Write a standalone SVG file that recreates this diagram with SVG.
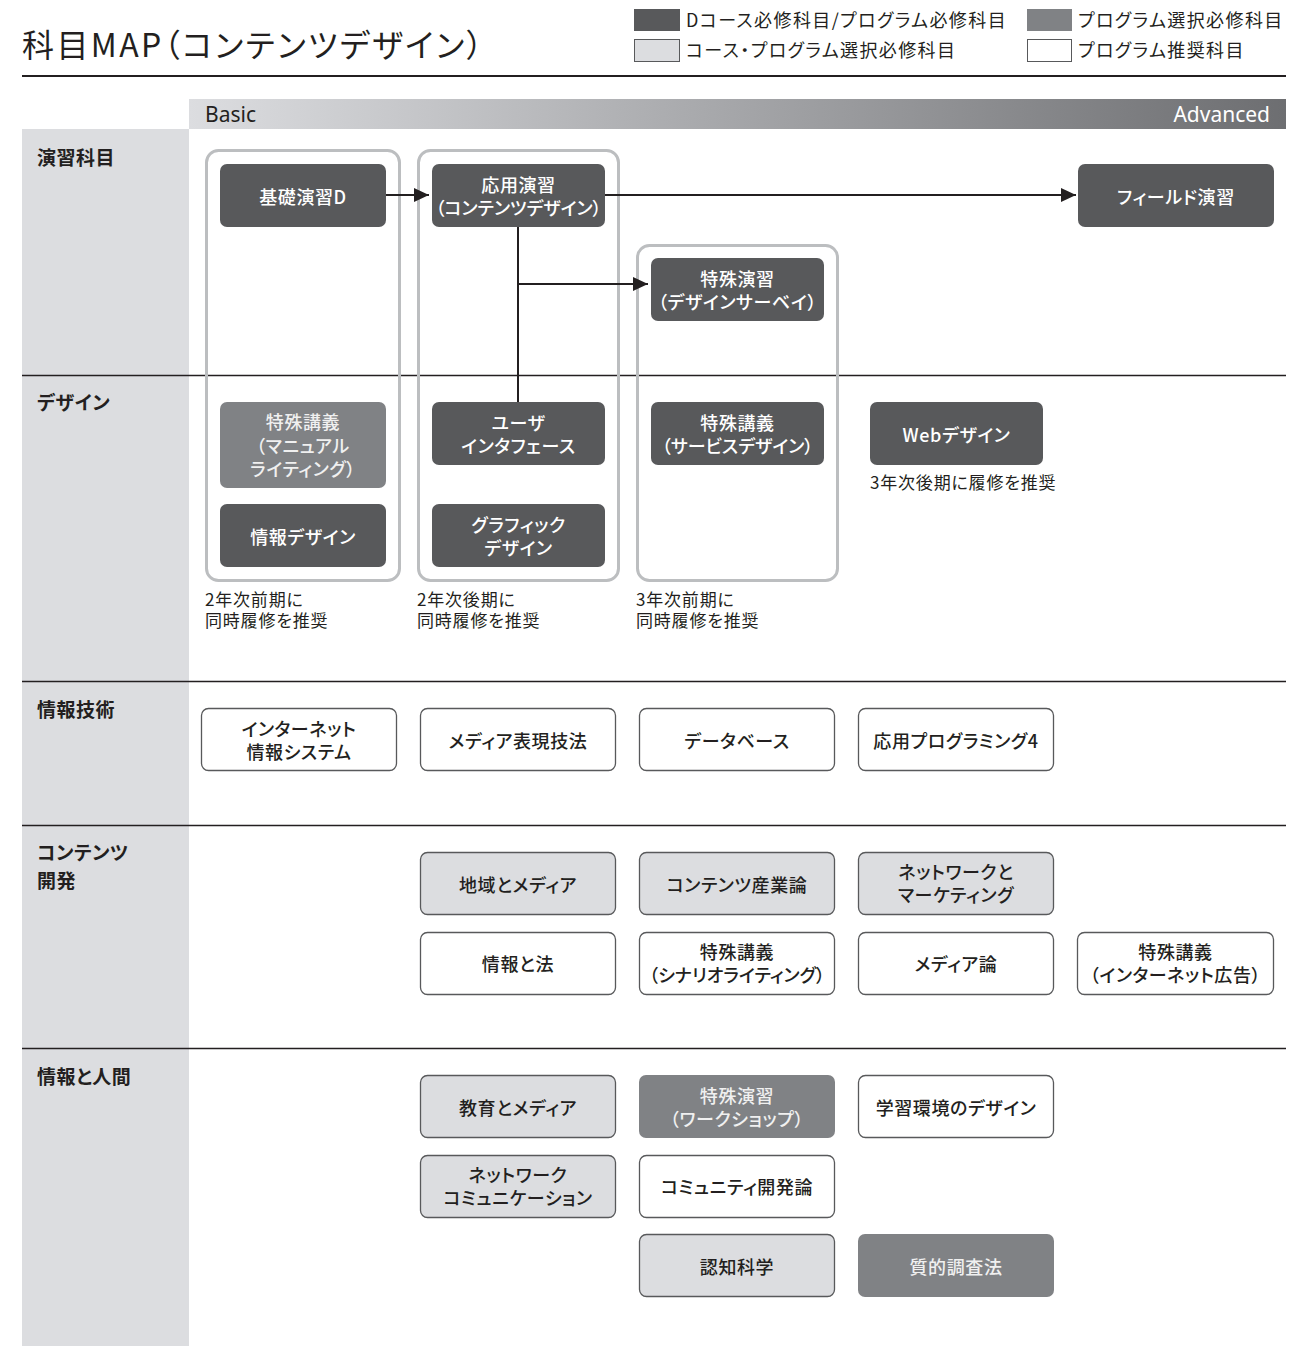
<svg xmlns="http://www.w3.org/2000/svg" width="1306" height="1346" viewBox="0 0 1306 1346">
<style>
text{font-family:"Noto Sans CJK JP","Noto Sans",sans-serif;font-feature-settings:"palt";}
.nt{font-size:18px;font-weight:500;text-anchor:middle;dominant-baseline:central;letter-spacing:0.6px;}
.tight{letter-spacing:0px;}
.tw{fill:#ffffff;}
.tm{fill:#f0f0f0;}
.tk{fill:#231f20;}
.dark{fill:#58595b;}
.mid{fill:#808285;}
.light{fill:#dcdde0;stroke:#58595b;stroke-width:1.3;}
.white{fill:#ffffff;stroke:#58595b;stroke-width:1.3;}
.grp{fill:none;stroke:#bcbec0;stroke-width:3;}
.rowlbl{font-size:19px;font-weight:700;fill:#231f20;letter-spacing:0.5px;}
.note{font-size:17px;fill:#231f20;letter-spacing:0.8px;}
.leg{font-size:18px;fill:#231f20;letter-spacing:1.4px;}
.sep{stroke:#231f20;stroke-width:1.3;}
.conn{stroke:#231f20;stroke-width:2;fill:none;}
</style>
<defs>
<linearGradient id="lvl" x1="0" y1="0" x2="1" y2="0">
<stop offset="0" stop-color="#dcdde0"/>
<stop offset="1" stop-color="#6d6e71"/>
</linearGradient>
<marker id="arr" markerUnits="userSpaceOnUse" markerWidth="16" markerHeight="16" viewBox="0 0 16 16" refX="15" refY="8" orient="auto">
<path d="M0,1 L15,8 L0,15 Z" fill="#231f20"/>
</marker>
</defs>
<rect width="1306" height="1346" fill="#ffffff"/>

<!-- Title -->
<text x="22" y="57" style="font-size:32px;fill:#231f20;letter-spacing:2.4px;">科目MAP（コンテンツデザイン）</text>
<line x1="22" y1="76" x2="1286" y2="76" stroke="#231f20" stroke-width="2.2"/>

<!-- Legend -->
<g id="legend">
<rect x="634" y="9" width="46" height="22" fill="#58595b"/>
<text class="leg" x="686" y="27">Dコース必修科目/プログラム必修科目</text>
<rect x="1027" y="9" width="45" height="22" fill="#808285"/>
<text class="leg" x="1078" y="27">プログラム選択必修科目</text>
<rect x="634.5" y="39.5" width="45" height="22" fill="#dcdde0" stroke="#58595b" stroke-width="1"/>
<text class="leg" x="686" y="57">コース・プログラム選択必修科目</text>
<rect x="1027.5" y="39.5" width="44" height="22" fill="#ffffff" stroke="#58595b" stroke-width="1"/>
<text class="leg" x="1078" y="57">プログラム推奨科目</text>
</g>

<!-- Level bar -->
<rect x="189" y="99" width="1097" height="30" fill="url(#lvl)"/>
<text x="205" y="122" style="font-family:'Noto Sans',sans-serif;font-size:21px;fill:#231f20;">Basic</text>
<text x="1270" y="122" text-anchor="end" style="font-family:'Noto Sans',sans-serif;font-size:21px;fill:#ffffff;">Advanced</text>

<!-- Sidebar -->
<rect x="22" y="129" width="167" height="1217" fill="#dcdde0"/>

<!-- Separators -->
<g id="separators">
<line class="sep" x1="22" y1="375.5" x2="1286" y2="375.5"/>
<line class="sep" x1="22" y1="681.5" x2="1286" y2="681.5"/>
<line class="sep" x1="22" y1="825.5" x2="1286" y2="825.5"/>
<line class="sep" x1="22" y1="1048.5" x2="1286" y2="1048.5"/>
</g>

<!-- Row labels -->
<g id="row-labels">
<text class="rowlbl" x="37" y="165">演習科目</text>
<text class="rowlbl" x="37" y="410">デザイン</text>
<text class="rowlbl" x="37" y="717">情報技術</text>
<text class="rowlbl" x="37" y="860">コンテンツ</text>
<text class="rowlbl" x="37" y="888">開発</text>
<text class="rowlbl" x="37" y="1084">情報と人間</text>
</g>

<!-- Groups -->
<g id="groups">
<rect class="grp" x="206.5" y="150.5" width="193" height="430" rx="12"/>
<rect class="grp" x="418.5" y="150.5" width="200" height="430" rx="12"/>
<rect class="grp" x="637.5" y="245.5" width="200" height="335" rx="12"/>
</g>

<!-- Connectors -->
<g id="connectors">
<line class="conn" x1="386" y1="195" x2="429" y2="195" marker-end="url(#arr)"/>
<line class="conn" x1="605" y1="195" x2="1076" y2="195" marker-end="url(#arr)"/>
<line class="conn" x1="518" y1="227" x2="518" y2="402"/>
<line class="conn" x1="518" y1="284" x2="648" y2="284" marker-end="url(#arr)"/>
</g>

<!-- Notes -->
<g id="notes">
<text class="note" x="205" y="606">2年次前期に</text>
<text class="note" x="205" y="627">同時履修を推奨</text>
<text class="note" x="417" y="606">2年次後期に</text>
<text class="note" x="417" y="627">同時履修を推奨</text>
<text class="note" x="636" y="606">3年次前期に</text>
<text class="note" x="636" y="627">同時履修を推奨</text>
<text class="note" x="870" y="489">3年次後期に履修を推奨</text>
</g>

<!-- Nodes: 演習科目 -->
<g id="n-kiso"><rect class="dark" x="220" y="164" width="166" height="63" rx="7"/><text class="nt tw" x="303" y="196">基礎演習D</text></g>
<g id="n-ouyou"><rect class="dark" x="432" y="164" width="173" height="63" rx="7"/><text class="nt tw" x="518.5" y="184">応用演習</text><text class="nt tw tight" x="518.5" y="207">（コンテンツデザイン）</text></g>
<g id="n-field"><rect class="dark" x="1078" y="164" width="196" height="63" rx="7"/><text class="nt tw" x="1176" y="196">フィールド演習</text></g>
<g id="n-survey"><rect class="dark" x="651" y="258" width="173" height="63" rx="7"/><text class="nt tw" x="737.5" y="278">特殊演習</text><text class="nt tw" x="737.5" y="301">（デザインサーベイ）</text></g>

<!-- Nodes: デザイン -->
<g id="n-manual"><rect class="mid" x="220" y="402" width="166" height="86" rx="7"/><text class="nt tm" x="303" y="421">特殊講義</text><text class="nt tm" x="303" y="445">（マニュアル</text><text class="nt tm" x="303" y="468">ライティング）</text></g>
<g id="n-infodesign"><rect class="dark" x="220" y="504" width="166" height="63" rx="7"/><text class="nt tw" x="303" y="536">情報デザイン</text></g>
<g id="n-ui"><rect class="dark" x="432" y="402" width="173" height="63" rx="7"/><text class="nt tw" x="518.5" y="422">ユーザ</text><text class="nt tw" x="518.5" y="445">インタフェース</text></g>
<g id="n-graphic"><rect class="dark" x="432" y="504" width="173" height="63" rx="7"/><text class="nt tw" x="518.5" y="524">グラフィック</text><text class="nt tw" x="518.5" y="547">デザイン</text></g>
<g id="n-service"><rect class="dark" x="651" y="402" width="173" height="63" rx="7"/><text class="nt tw" x="737.5" y="422">特殊講義</text><text class="nt tw tight" x="737.5" y="445">（サービスデザイン）</text></g>
<g id="n-web"><rect class="dark" x="870" y="402" width="173" height="63" rx="7"/><text class="nt tw" x="956.5" y="434">Webデザイン</text></g>

<!-- Nodes: 情報技術 -->
<g id="n-inet"><rect class="white" x="201.5" y="708.5" width="195" height="62" rx="7"/><text class="nt tk" x="299" y="728">インターネット</text><text class="nt tk" x="299" y="751">情報システム</text></g>
<g id="n-media-hyogen"><rect class="white" x="420.5" y="708.5" width="195" height="62" rx="7"/><text class="nt tk" x="518" y="740">メディア表現技法</text></g>
<g id="n-db"><rect class="white" x="639.5" y="708.5" width="195" height="62" rx="7"/><text class="nt tk" x="737" y="740">データベース</text></g>
<g id="n-prog4"><rect class="white" x="858.5" y="708.5" width="195" height="62" rx="7"/><text class="nt tk" x="956" y="740">応用プログラミング4</text></g>

<!-- Nodes: コンテンツ開発 -->
<g id="n-chiiki"><rect class="light" x="420.5" y="852.5" width="195" height="62" rx="7"/><text class="nt tk" x="518" y="884">地域とメディア</text></g>
<g id="n-sangyo"><rect class="light" x="639.5" y="852.5" width="195" height="62" rx="7"/><text class="nt tk" x="737" y="884">コンテンツ産業論</text></g>
<g id="n-marketing"><rect class="light" x="858.5" y="852.5" width="195" height="62" rx="7"/><text class="nt tk" x="956" y="871">ネットワークと</text><text class="nt tk" x="956" y="894">マーケティング</text></g>
<g id="n-law"><rect class="white" x="420.5" y="932.5" width="195" height="62" rx="7"/><text class="nt tk" x="518" y="963">情報と法</text></g>
<g id="n-scenario"><rect class="white" x="639.5" y="932.5" width="195" height="62" rx="7"/><text class="nt tk" x="737" y="951">特殊講義</text><text class="nt tk tight" x="737" y="974">（シナリオライティング）</text></g>
<g id="n-medialon"><rect class="white" x="858.5" y="932.5" width="195" height="62" rx="7"/><text class="nt tk" x="956" y="963">メディア論</text></g>
<g id="n-ad"><rect class="white" x="1077.5" y="932.5" width="196" height="62" rx="7"/><text class="nt tk" x="1175.5" y="951">特殊講義</text><text class="nt tk" x="1175.5" y="974">（インターネット広告）</text></g>

<!-- Nodes: 情報と人間 -->
<g id="n-kyoiku"><rect class="light" x="420.5" y="1075.5" width="195" height="62" rx="7"/><text class="nt tk" x="518" y="1107">教育とメディア</text></g>
<g id="n-workshop"><rect class="mid" x="639" y="1075" width="196" height="63" rx="7"/><text class="nt tm" x="737" y="1095">特殊演習</text><text class="nt tm" x="737" y="1118">（ワークショップ）</text></g>
<g id="n-gakushu"><rect class="white" x="858.5" y="1075.5" width="195" height="62" rx="7"/><text class="nt tk" x="956" y="1107">学習環境のデザイン</text></g>
<g id="n-netcomm"><rect class="light" x="420.5" y="1155.5" width="195" height="62" rx="7"/><text class="nt tk" x="518" y="1174">ネットワーク</text><text class="nt tk" x="518" y="1197">コミュニケーション</text></g>
<g id="n-community"><rect class="white" x="639.5" y="1155.5" width="195" height="62" rx="7"/><text class="nt tk" x="737" y="1186">コミュニティ開発論</text></g>
<g id="n-ninchi"><rect class="light" x="639.5" y="1234.5" width="195" height="62" rx="7"/><text class="nt tk" x="737" y="1266">認知科学</text></g>
<g id="n-shitsuteki"><rect class="mid" x="858" y="1234" width="196" height="63" rx="7"/><text class="nt tm" x="956" y="1266">質的調査法</text></g>
</svg>
